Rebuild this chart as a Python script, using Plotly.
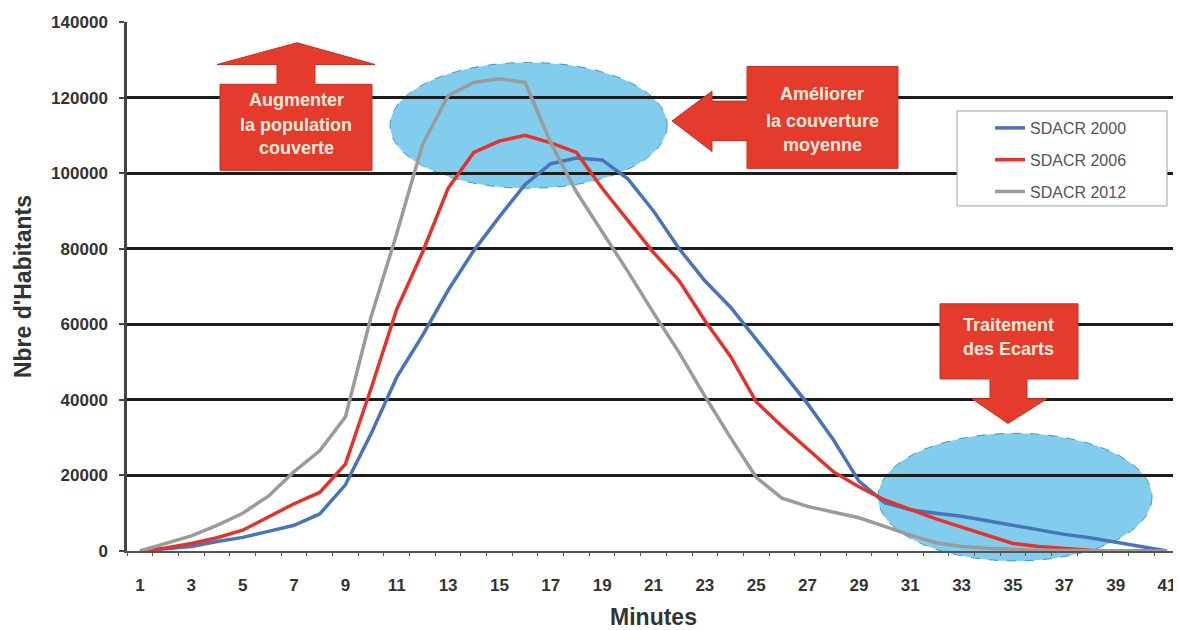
import plotly.graph_objects as go

# ---- data ----
minutes = list(range(1, 42))
x_tick_labels = [str(m) for m in range(1, 42, 2)]
series_names = ["SDACR 2000", "SDACR 2006", "SDACR 2012"]
sdacr_2000 = [0, 500, 1200, 2500, 3600, 5200, 6800, 9800, 17500, 31000,
              46000, 57000, 69000, 79500, 88500, 97000, 102500, 104000, 103500, 98500,
              90000, 80000, 71500, 64500, 56000, 47500, 39000, 29500, 18500, 12800,
              10900, 10000, 9200, 8000, 6800, 5400, 4400, 3500, 2300, 1200, 0]
sdacr_2006 = [0, 800, 2000, 3500, 5500, 9000, 12500, 15500, 23000, 43000,
              64000, 79000, 96000, 105500, 108500, 110000, 108000, 105500, 96000, 87500,
              79000, 71500, 61000, 51500, 39500, 33000, 27000, 21000, 17000, 13500,
              11000, 8500, 6300, 4200, 2000, 1200, 700, 200, 0, 0, 0]
sdacr_2012 = [0, 2000, 4000, 6800, 10000, 14500, 21000, 26500, 35500, 62000,
              84000, 107500, 120500, 124000, 125000, 124000, 108000, 95000, 84500, 74000,
              63000, 52500, 41000, 30000, 19500, 14000, 11800, 10300, 8800, 6500,
              4200, 2200, 1200, 700, 400, 200, 100, 0, 0, 0, 0]
series_values = [sdacr_2000, sdacr_2006, sdacr_2012]
series_colors = ["#4A74B8", "#E2342B", "#9B9B9B"]

# ---- layout geometry (page pixels; the page body has an 8px offset) ----
OFF = 8
W, H = 1181 - OFF, 630 - OFF
PL, PR, PT, PB = 127, 1180, 22, 557
ML, MT = PL - OFF, PT - OFF
MR = (W + OFF) - PR
MB = (H + OFF) - PB


def px(xp):
    return (xp - PL) / (PR - PL)


def py(yp):
    return (PB - yp) / (PB - PT)


def path(points):
    return "M " + " L ".join(f"{px(a):.5f},{py(b):.5f}" for a, b in points) + " Z"


fig = go.Figure()
for name, vals, col in zip(series_names, series_values, series_colors):
    fig.add_trace(go.Scatter(x=minutes, y=vals, mode="lines", name=name,
                             legendgroup=name,
                             line=dict(color=col, width=3.5)))

shapes = []
# blue ellipses (below gridlines)
shapes.append(dict(type="circle", xref="x", yref="y", x0=10.74, x1=21.53,
                   y0=96000, y1=129300, layer="below",
                   fillcolor="rgb(130,205,238)",
                   line=dict(color="rgb(60,150,200)", width=1, dash="dash")))
shapes.append(dict(type="circle", xref="paper", yref="paper",
                   x0=px(878), x1=px(1152), y0=py(567), y1=py(438), layer="below",
                   fillcolor="rgb(130,205,238)",
                   line=dict(color="rgb(60,150,200)", width=1, dash="dash")))

arrow_fill = "#E53B2D"
arrow_line = dict(color="#C92C20", width=1)
up_arrow = [(220, 172), (220, 85), (277, 85), (277, 65), (217, 65), (297, 43),
            (375, 65), (315, 65), (315, 85), (372, 85), (372, 172)]
left_arrow = [(898, 67), (747, 67), (747, 102), (712, 102), (712, 92), (672, 122),
              (712, 153), (712, 142), (747, 142), (747, 170), (898, 170)]
down_arrow = [(940, 307), (1078, 307), (1078, 383), (1027, 383), (1027, 403),
              (1047, 403), (1008, 428), (972, 403), (990, 403), (990, 383), (940, 383)]
for pts in (up_arrow, left_arrow, down_arrow):
    shapes.append(dict(type="path", xref="paper", yref="paper", path=path(pts),
                       fillcolor=arrow_fill, line=arrow_line, layer="above"))

# legend box
shapes.append(dict(type="rect", xref="paper", yref="paper",
                   x0=px(957), x1=px(1167), y0=py(208), y1=py(112),
                   fillcolor="white", line=dict(color="#A0A0A0", width=1), layer="above"))

annotations = []
txt_font = dict(family="Liberation Sans", size=18, color="#FCEBDA", weight="bold")
for text, cx, cy in [("Augmenter", 296, 101), ("la population", 296, 126), ("couverte", 296, 149),
                     ("Améliorer", 822, 95), ("la couverture", 822, 122), ("moyenne", 822, 146),
                     ("Traitement", 1008, 328), ("des Ecarts", 1008, 353)]:
    annotations.append(dict(text=text, x=px(cx), y=py(cy), xref="paper", yref="paper",
                            showarrow=False, xanchor="center", yanchor="middle",
                            font=txt_font))

fig.update_layout(
    width=W, height=H,
    margin=dict(l=ML, r=MR, t=MT, b=MB, pad=0),
    paper_bgcolor="white", plot_bgcolor="rgba(0,0,0,0)",
    shapes=shapes, annotations=annotations,
    showlegend=True,
    legend=dict(x=px(990), y=py(112), xanchor="left", yanchor="top",
                bgcolor="rgba(0,0,0,0)", borderwidth=0,
                traceorder="grouped", tracegroupgap=8,
                font=dict(family="Liberation Sans", size=16, color="#555555")),
    xaxis=dict(range=[0.494, 41.506], tickmode="array",
               tickvals=list(range(1, 42, 2)), ticktext=x_tick_labels,
               ticks="", showgrid=False, zeroline=False,
               showline=True, linecolor="#555555", linewidth=1.5,
               minor=dict(tickmode="linear", tick0=0.5, dtick=1, ticks="outside",
                          ticklen=3, tickcolor="#555555", showgrid=False),
               ticklabelstandoff=18,
               tickfont=dict(family="Liberation Sans", size=17, color="#333333", weight="bold"),
               title=dict(text="Minutes", standoff=18,
                          font=dict(family="Liberation Sans", size=23, color="#333333", weight="bold"))),
    yaxis=dict(range=[0, 140000], dtick=20000, tickformat="d",
               showgrid=True, gridcolor="#1C1C1C", gridwidth=2.5,
               zeroline=False, showline=True, linecolor="#444444", linewidth=2.5,
               ticks="outside", ticklen=5, tickcolor="#444444", tickwidth=2,
               ticklabelstandoff=8,
               tickfont=dict(family="Liberation Sans", size=17, color="#333333", weight="bold"),
               title=dict(text="Nbre d'Habitants", standoff=14,
                          font=dict(family="Liberation Sans", size=23, color="#333333", weight="bold"))),
)

fig.write_html("out.html")
